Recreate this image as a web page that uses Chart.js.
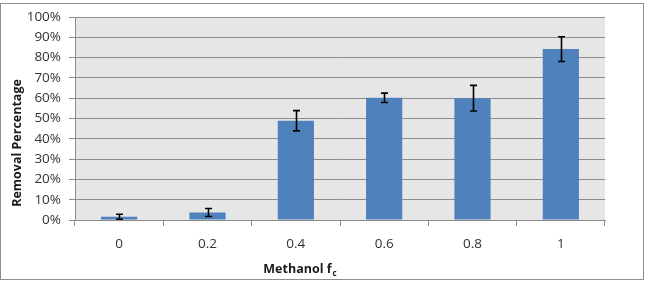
<!DOCTYPE html>
<html>
<head>
<meta charset="utf-8">
<script src="https://cdn.jsdelivr.net/npm/chart.js@4"></script>
<style>
html,body{margin:0;padding:0;background:#fff;}
#wrap{width:645px;height:282px;position:relative;}
</style>
</head>
<body>
<div id="wrap"><canvas id="c" width="645" height="282"></canvas></div>
<script>
const categories = ['0', '0.2', '0.4', '0.6', '0.8', '1'];
const removal = [0.016, 0.037, 0.489, 0.602, 0.600, 0.842];
const errors = [0.012, 0.020, 0.050, 0.023, 0.063, 0.061];
const yTicks = [0, 0.1, 0.2, 0.3, 0.4, 0.5, 0.6, 0.7, 0.8, 0.9, 1.0];
const xTitle = 'Methanol f';
const xTitleSub = 'c';
const yTitle = 'Removal Percentage';

const FONT = '"Open Sans", sans-serif';

const framePlugin = {
  id: 'frame',
  beforeDraw(chart) {
    const ctx = chart.ctx, a = chart.chartArea;
    ctx.save();
    ctx.fillStyle = '#ffffff';
    ctx.fillRect(0, 0, chart.width, chart.height);
    ctx.strokeStyle = '#8e8e8e';
    ctx.lineWidth = 1;
    ctx.strokeRect(0.5, 3.5, 643, 276);
    ctx.fillStyle = '#e6e6e6';
    ctx.fillRect(a.left, a.top, a.right - a.left, a.bottom - a.top);
    ctx.restore();
  },
  afterDraw(chart) {
    const ctx = chart.ctx;
    ctx.save();
    ctx.fillStyle = '#1a1a1a';
    ctx.textBaseline = 'alphabetic';
    // x title with subscript
    ctx.font = 'bold 12.5px ' + FONT;
    const w1 = ctx.measureText(xTitle).width;
    ctx.font = 'bold 8px ' + FONT;
    const w2 = ctx.measureText(xTitleSub).width;
    const cx = 300, by = 273;
    const start = cx - (w1 + w2 + 1) / 2;
    ctx.font = 'bold 12.5px ' + FONT;
    ctx.textAlign = 'left';
    ctx.fillText(xTitle, start, by);
    ctx.font = 'bold 8px ' + FONT;
    ctx.fillText(xTitleSub, start + w1 + 1, by + 3);
    // y title
    ctx.translate(21, 143);
    ctx.rotate(-Math.PI / 2);
    ctx.font = 'bold 12.5px ' + FONT;
    ctx.textAlign = 'center';
    ctx.fillText(yTitle, 0, 0);
    ctx.restore();
  }
};

const errorBarPlugin = {
  id: 'errorBars',
  afterDatasetsDraw(chart) {
    const ctx = chart.ctx;
    const yS = chart.scales.y;
    const meta = chart.getDatasetMeta(0);
    ctx.save();
    ctx.strokeStyle = '#000000';
    ctx.lineWidth = 1.6;
    meta.data.forEach((bar, i) => {
      const v = removal[i], e = errors[i];
      const x = Math.round(bar.x) + 0.5;
      const yt = yS.getPixelForValue(v + e);
      const yb = yS.getPixelForValue(v - e);
      ctx.beginPath();
      ctx.moveTo(x, yt); ctx.lineTo(x, yb);
      ctx.moveTo(x - 3.5, yt); ctx.lineTo(x + 3.5, yt);
      ctx.moveTo(x - 3.5, yb); ctx.lineTo(x + 3.5, yb);
      ctx.stroke();
    });
    ctx.restore();
  }
};

new Chart(document.getElementById('c'), {
  type: 'bar',
  data: {
    labels: categories,
    datasets: [{
      data: removal,
      backgroundColor: '#4f81bd',
      borderWidth: 0,
      barPercentage: 0.41,
      categoryPercentage: 1.0
    }]
  },
  options: {
    responsive: false,
    animation: false,
    devicePixelRatio: 1,
    layout: { padding: { left: 0, right: 40, top: 17, bottom: 0 } },
    plugins: { legend: { display: false }, tooltip: { enabled: false } },
    scales: {
      x: {
        offset: true,
        grid: { offset: true, drawOnChartArea: false, color: '#8c8c8c', tickLength: 6, tickColor: '#8c8c8c' },
        border: { display: true, color: '#8c8c8c' },
        ticks: { color: '#333333', font: { family: FONT, size: 13.5 }, padding: 10 },
        afterFit(s) { s.height = 62; }
      },
      y: {
        min: 0, max: 1,
        afterBuildTicks(s) { s.ticks = yTicks.map(v => ({ value: v })); },
        grid: { color: '#8c8c8c', tickLength: 6, tickColor: '#8c8c8c' },
        border: { display: true, color: '#8c8c8c' },
        ticks: {
          color: '#333333', font: { family: FONT, size: 13.5 }, padding: 8,
          callback: v => Math.round(v * 100) + '%'
        },
        afterFit(s) { s.width = 75; }
      }
    }
  },
  plugins: [framePlugin, errorBarPlugin]
});
</script>
</body>
</html>
